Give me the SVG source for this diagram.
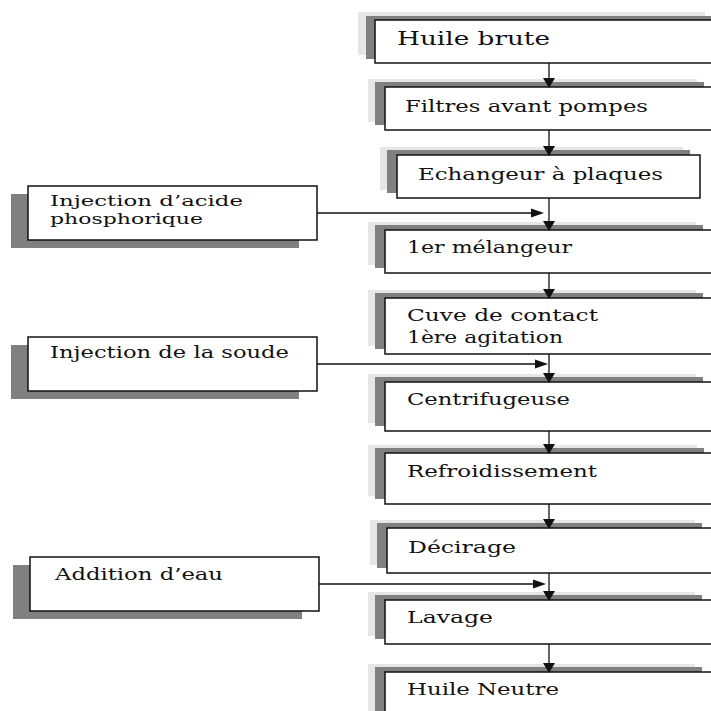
<svg xmlns="http://www.w3.org/2000/svg" width="711" height="711" viewBox="0 0 711 711">
<style>
.bg{fill:#ffffff}
.box{fill:#ffffff;stroke:#111;stroke-width:1.5}
.sl{fill:#e6e6e6}
.sd{fill:#808080}
text{font-family:'DejaVu Serif','Liberation Serif',serif;font-size:16.5px;fill:#111}
.big{font-size:18px}
.sm{font-size:15.5px}
.ln{stroke:#111;stroke-width:1.3;fill:none}
.ah{fill:#111}
</style>
<defs>
<path id="down" class="ah" d="M-6,-10 L6,-10 L0,0 Z"/>
<path id="right" class="ah" d="M-13,-4.5 L0,0 L-13,4.5 Z"/>
</defs>
<rect class="bg" x="0" y="0" width="711" height="711"/>

<g id="huile-brute">
<rect class="sl" x="358" y="12" width="347" height="43"/>
<rect class="sd" x="366" y="16" width="347" height="43"/>
<rect class="box" x="375" y="20" width="347" height="43"/>
<text class="big" x="397" y="45" textLength="153" lengthAdjust="spacingAndGlyphs">Huile brute</text>
</g>

<g id="filtres">
<rect class="sl" x="368" y="79" width="329" height="43"/>
<rect class="sd" x="375" y="82" width="329" height="43"/>
<rect class="box" x="385" y="87" width="329" height="43"/>
<text x="405" y="112" textLength="243" lengthAdjust="spacingAndGlyphs">Filtres avant pompes</text>
</g>

<g id="echangeur">
<rect class="sl" x="380" y="147" width="303" height="43"/>
<rect class="sd" x="387" y="150" width="303" height="43"/>
<rect class="box" x="397" y="155" width="303" height="43"/>
<text x="418" y="180" textLength="245" lengthAdjust="spacingAndGlyphs">Echangeur à plaques</text>
</g>

<g id="melangeur">
<rect class="sl" x="368" y="222" width="328" height="43"/>
<rect class="sd" x="375" y="225" width="328" height="43"/>
<rect class="box" x="385" y="230" width="328" height="43"/>
<text x="407" y="253" textLength="165" lengthAdjust="spacingAndGlyphs">1er mélangeur</text>
</g>

<g id="cuve">
<rect class="sl" x="368" y="290" width="328" height="56"/>
<rect class="sd" x="375" y="293" width="328" height="56"/>
<rect class="box" x="385" y="298" width="328" height="56"/>
<text x="407" y="321" textLength="191" lengthAdjust="spacingAndGlyphs">Cuve de contact</text>
<text x="407" y="343" textLength="156" lengthAdjust="spacingAndGlyphs">1ère agitation</text>
</g>

<g id="centrifugeuse">
<rect class="sl" x="368" y="374" width="328" height="49"/>
<rect class="sd" x="375" y="377" width="328" height="49"/>
<rect class="box" x="385" y="382" width="328" height="49"/>
<text x="407" y="405" textLength="163" lengthAdjust="spacingAndGlyphs">Centrifugeuse</text>
</g>

<g id="refroidissement">
<rect class="sl" x="368" y="445" width="329" height="51"/>
<rect class="sd" x="375" y="448" width="329" height="51"/>
<rect class="box" x="385" y="453" width="329" height="51"/>
<text x="407" y="477" textLength="190" lengthAdjust="spacingAndGlyphs">Refroidissement</text>
</g>

<g id="decirage">
<rect class="sl" x="370" y="520" width="325" height="45"/>
<rect class="sd" x="377" y="523" width="325" height="45"/>
<rect class="box" x="387" y="528" width="325" height="45"/>
<text x="408" y="553" textLength="108" lengthAdjust="spacingAndGlyphs">Décirage</text>
</g>

<g id="lavage">
<rect class="sl" x="368" y="592" width="327" height="44"/>
<rect class="sd" x="375" y="595" width="327" height="44"/>
<rect class="box" x="385" y="600" width="327" height="44"/>
<text x="407" y="623" textLength="86" lengthAdjust="spacingAndGlyphs">Lavage</text>
</g>

<g id="huile-neutre">
<rect class="sl" x="368" y="664" width="327" height="60"/>
<rect class="sd" x="375" y="667" width="327" height="60"/>
<rect class="box" x="385" y="672" width="327" height="60"/>
<text x="407" y="695" textLength="152" lengthAdjust="spacingAndGlyphs">Huile Neutre</text>
</g>

<g id="injection-acide">
<rect class="sd" x="11" y="194" width="288" height="54"/>
<rect class="box" x="28" y="186" width="289" height="54"/>
<text class="sm" x="50" y="206" textLength="193" lengthAdjust="spacingAndGlyphs">Injection d’acide</text>
<text class="sm" x="50" y="224" textLength="153" lengthAdjust="spacingAndGlyphs">phosphorique</text>
</g>

<g id="injection-soude">
<rect class="sd" x="11" y="345" width="288" height="54"/>
<rect class="box" x="28" y="337" width="289" height="54"/>
<text x="50" y="358" textLength="239" lengthAdjust="spacingAndGlyphs">Injection de la soude</text>
</g>

<g id="addition-eau">
<rect class="sd" x="13" y="565" width="289" height="54"/>
<rect class="box" x="30" y="557" width="289" height="54"/>
<text x="55" y="580" textLength="168" lengthAdjust="spacingAndGlyphs">Addition d’eau</text>
</g>

<g id="connectors">
<line class="ln" x1="549" y1="63" x2="549" y2="80"/>
<line class="ln" x1="549" y1="130" x2="549" y2="148"/>
<line class="ln" x1="549" y1="198" x2="549" y2="223"/>
<line class="ln" x1="549" y1="273" x2="549" y2="291"/>
<line class="ln" x1="549" y1="354" x2="549" y2="375"/>
<line class="ln" x1="549" y1="431" x2="549" y2="446"/>
<line class="ln" x1="549" y1="504" x2="549" y2="521"/>
<line class="ln" x1="549" y1="573" x2="549" y2="593"/>
<line class="ln" x1="549" y1="644" x2="549" y2="665"/>
<line class="ln" x1="317" y1="213" x2="533" y2="213"/>
<line class="ln" x1="317" y1="364" x2="538" y2="364"/>
<line class="ln" x1="319" y1="584" x2="535" y2="584"/>
<use href="#down" x="549" y="88"/>
<use href="#down" x="549" y="156"/>
<use href="#down" x="549" y="231"/>
<use href="#down" x="549" y="299"/>
<use href="#down" x="549" y="383"/>
<use href="#down" x="549" y="454"/>
<use href="#down" x="549" y="529"/>
<use href="#down" x="549" y="601"/>
<use href="#down" x="549" y="673"/>
<use href="#right" x="544" y="213"/>
<use href="#right" x="548" y="364"/>
<use href="#right" x="546" y="584"/>
</g>
</svg>
